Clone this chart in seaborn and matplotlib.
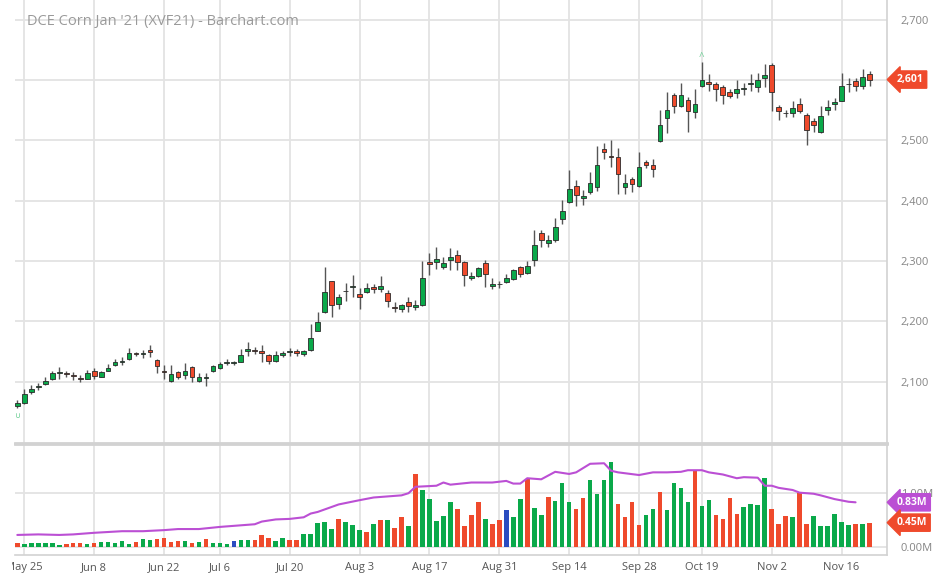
import matplotlib
matplotlib.use("Agg")
import matplotlib.pyplot as plt
import seaborn as sns
import numpy as np
import pandas as pd
from matplotlib.ticker import FuncFormatter
from matplotlib.transforms import Bbox, TransformedBbox

# trading calendar (DCE, holidays removed)
holidays = ["2020-06-25", "2020-06-26", "2020-10-01", "2020-10-02", "2020-10-05",
            "2020-10-06", "2020-10-07", "2020-10-08"]
dates = pd.bdate_range("2020-05-22", "2020-11-20")
dates = dates[~dates.isin(pd.to_datetime(holidays))]

tick_dates = ["2020-05-25", "2020-06-08", "2020-06-22", "2020-07-06", "2020-07-20",
              "2020-08-03", "2020-08-17", "2020-08-31", "2020-09-14", "2020-09-28",
              "2020-10-19", "2020-11-02", "2020-11-16"]

opens = [2060, 2064, 2083, 2091, 2096, 2104, 2114, 2114, 2110, 2106,
         2105, 2117, 2108, 2118, 2127, 2133, 2137, 2148, 2146, 2153,
         2136, 2118, 2101, 2115, 2111, 2124, 2101, 2106, 2118, 2123,
         2131, 2131, 2133, 2151, 2152, 2151, 2144, 2134, 2144, 2149,
         2151, 2146, 2152, 2184, 2216, 2266, 2228, 2250, 2257, 2245,
         2249, 2257, 2253, 2247, 2224, 2220, 2232, 2223, 2227, 2299,
         2299, 2290, 2302, 2310, 2299, 2272, 2275, 2297, 2258, 2261,
         2265, 2270, 2290, 2280, 2302, 2347, 2330, 2335, 2370, 2398,
         2424, 2404, 2414, 2423, 2485, 2474, 2472, 2423, 2436, 2424,
         2465, 2460, 2499, 2537, 2576, 2557, 2567, 2548, 2591, 2597,
         2593, 2588, 2581, 2578, 2586, 2593, 2589, 2604, 2625, 2556,
         2545, 2546, 2561, 2543, 2532, 2514, 2550, 2560, 2566, 2594,
         2598, 2591, 2611]
highs = [2069, 2088, 2094, 2097, 2107, 2118, 2124, 2118, 2115, 2111,
         2119, 2122, 2118, 2129, 2138, 2140, 2155, 2149, 2152, 2161,
         2137, 2128, 2127, 2117, 2131, 2125, 2114, 2114, 2127, 2133,
         2137, 2134, 2154, 2166, 2157, 2161, 2145, 2150, 2150, 2155,
         2154, 2153, 2195, 2216, 2290, 2267, 2246, 2264, 2277, 2255,
         2263, 2262, 2275, 2252, 2232, 2229, 2240, 2235, 2300, 2314,
         2323, 2307, 2321, 2318, 2300, 2282, 2290, 2302, 2271, 2266,
         2278, 2286, 2291, 2300, 2351, 2351, 2343, 2372, 2401, 2451,
         2434, 2418, 2447, 2491, 2496, 2500, 2487, 2444, 2440, 2480,
         2468, 2470, 2550, 2581, 2579, 2596, 2572, 2586, 2630, 2611,
         2597, 2592, 2585, 2601, 2595, 2610, 2612, 2626, 2629, 2559,
         2550, 2566, 2570, 2545, 2537, 2557, 2567, 2570, 2612, 2603,
         2603, 2619, 2615]
lows = [2056, 2063, 2080, 2086, 2094, 2103, 2105, 2108, 2103, 2099,
        2104, 2104, 2107, 2117, 2125, 2127, 2135, 2143, 2139, 2141,
        2114, 2105, 2100, 2105, 2105, 2100, 2100, 2093, 2116, 2121,
        2127, 2127, 2132, 2142, 2146, 2133, 2129, 2133, 2140, 2142,
        2143, 2143, 2151, 2183, 2214, 2207, 2221, 2233, 2241, 2221,
        2247, 2247, 2249, 2224, 2215, 2216, 2216, 2219, 2226, 2276,
        2286, 2286, 2285, 2285, 2259, 2268, 2273, 2257, 2253, 2255,
        2263, 2268, 2273, 2279, 2292, 2324, 2323, 2332, 2361, 2397,
        2392, 2393, 2411, 2416, 2470, 2456, 2411, 2411, 2415, 2422,
        2455, 2440, 2498, 2512, 2545, 2556, 2514, 2537, 2589, 2582,
        2566, 2560, 2571, 2571, 2575, 2582, 2581, 2588, 2549, 2534,
        2539, 2539, 2545, 2492, 2514, 2513, 2542, 2550, 2565, 2581,
        2582, 2586, 2591]
closes = [2065, 2079, 2088, 2092, 2101, 2114, 2115, 2113, 2109, 2105,
          2114, 2109, 2116, 2122, 2133, 2134, 2147, 2145, 2147, 2149,
          2125, 2116, 2112, 2108, 2118, 2107, 2108, 2107, 2125, 2129,
          2132, 2132, 2144, 2154, 2151, 2147, 2134, 2144, 2147, 2150,
          2148, 2151, 2173, 2199, 2249, 2227, 2240, 2251, 2258, 2241,
          2255, 2253, 2259, 2233, 2222, 2227, 2226, 2227, 2272, 2295,
          2303, 2296, 2306, 2298, 2276, 2275, 2288, 2278, 2262, 2262,
          2271, 2285, 2278, 2292, 2326, 2335, 2334, 2357, 2383, 2420,
          2409, 2407, 2430, 2459, 2480, 2473, 2444, 2430, 2427, 2456,
          2460, 2452, 2525, 2550, 2557, 2576, 2549, 2560, 2600, 2593,
          2586, 2576, 2574, 2585, 2587, 2596, 2600, 2609, 2581, 2549,
          2546, 2554, 2549, 2518, 2525, 2541, 2556, 2563, 2590, 2593,
          2591, 2605, 2601]

# volume in millions, colour code: g up, r down, b unchanged
volumes = [0.075, 0.044, 0.062, 0.069, 0.069, 0.075, 0.037, 0.056, 0.062, 0.062,
           0.056, 0.062, 0.081, 0.081, 0.069, 0.112, 0.050, 0.081, 0.150, 0.125,
           0.150, 0.156, 0.081, 0.106, 0.106, 0.062, 0.094, 0.137, 0.075, 0.069,
           0.050, 0.106, 0.125, 0.119, 0.125, 0.225, 0.169, 0.106, 0.169, 0.125,
           0.119, 0.243, 0.243, 0.437, 0.456, 0.331, 0.512, 0.456, 0.400, 0.306,
           0.275, 0.424, 0.493, 0.493, 0.350, 0.549, 0.387, 1.367, 1.061, 0.893,
           0.481, 0.581, 0.843, 0.712, 0.387, 0.593, 0.843, 0.512, 0.431, 0.500,
           0.687, 0.556, 0.899, 1.261, 0.724, 0.587, 0.930, 0.861, 1.186, 0.836,
           0.712, 0.918, 1.242, 0.980, 1.248, 1.586, 0.793, 0.549, 0.843, 0.412,
           0.593, 0.699, 1.024, 0.693, 1.186, 1.105, 0.843, 1.423, 0.768, 0.874,
           0.587, 0.524, 0.911, 0.605, 0.749, 0.805, 0.787, 1.280, 0.699, 0.418,
           0.580, 0.549, 1.011, 0.424, 0.580, 0.393, 0.393, 0.612, 0.468, 0.406,
           0.424, 0.424, 0.450]
vol_dirs = list("rgggggg" "rrrgrgggggrgg" "rrrrgrgrgggb" "ggrrrggrrgg" "gggrgggrgrg"
                "rrgrgggggrrrr" "grrbggrggrggg" "rrggggrrrrggr" "ggggrggrrrrgg"
                "ggrrrgrrggggggrgr")

# volume moving average (day index, millions)
ma_days = [0, 3, 6, 8, 11, 15, 18, 21, 23, 26, 29, 31, 34, 35, 37, 39, 41, 42, 43,
           46, 49, 51, 53, 55, 56, 57, 60, 61, 62, 65, 68, 70, 71, 72, 73, 75, 77,
           79, 80, 82, 84, 85, 86, 89, 91, 93, 95, 96, 98, 99, 101, 103, 104, 106,
           107, 108, 109, 111, 112, 114, 115, 117, 119, 120]
ma_vals = [0.22, 0.23, 0.22, 0.23, 0.26, 0.29, 0.29, 0.31, 0.33, 0.33, 0.37, 0.39,
           0.42, 0.47, 0.51, 0.52, 0.55, 0.62, 0.65, 0.79, 0.87, 0.92, 0.94, 0.96,
           1.00, 1.12, 1.14, 1.20, 1.16, 1.20, 1.20, 1.23, 1.18, 1.18, 1.28, 1.26,
           1.40, 1.36, 1.39, 1.55, 1.56, 1.42, 1.39, 1.34, 1.39, 1.39, 1.40, 1.43,
           1.43, 1.39, 1.35, 1.28, 1.30, 1.29, 1.14, 1.14, 1.10, 1.06, 1.01, 0.99,
           0.96, 0.89, 0.84, 0.83]

GREEN = "#0aa94a"
RED = "#ef4a2c"
BLUE = "#2a4cc0"
PURPLE = "#bb4fd4"
GRID = "#e3e3e3"
EDGE = "#d2d2d2"

sns.set_theme(style="white")
plt.rcParams["font.family"] = ["Open Sans", "DejaVu Sans"]

W, H = 940, 574
fig = plt.figure(figsize=(W / 100, H / 100), dpi=100)
axp = fig.add_axes([15 / W, 1 - 443 / H, (887 - 15) / W, 443 / H])
axv = fig.add_axes([15 / W, 1 - 555 / H, (887 - 15) / W, (555 - 444) / H])

n = len(closes)
x = np.arange(n)
o = np.array(opens, float)
c = np.array(closes, float)
up = c >= o
body_col = np.where(up, GREEN, RED)

# candles
axp.vlines(x, lows, highs, color="#555555", lw=1, zorder=2)
axp.bar(x, np.maximum(np.abs(c - o), 0.9), bottom=np.minimum(o, c), width=0.68,
        color=body_col, edgecolor="#2a2a2a", linewidth=0.6, zorder=3)

# high / low markers
hi = int(np.argmax(highs))
lo = int(np.argmin(lows))
axp.annotate("^", (hi, highs[hi]), xytext=(0, -1), textcoords="offset points",
             ha="center", va="bottom", fontsize=7, color="#6fcf97")
axp.annotate("$\\cup$", (lo, lows[lo]), xytext=(0, -2), textcoords="offset points",
             ha="center", va="top", fontsize=6, color="#6fcf97")

# volume
vol_df = pd.DataFrame({"day": x, "vol": volumes, "dir": vol_dirs})
sns.barplot(data=vol_df, x="day", y="vol", hue="dir",
            palette={"g": GREEN, "r": RED, "b": BLUE}, dodge=False, width=0.66,
            errorbar=None, legend=False, saturation=1, linewidth=0,
            ax=axv, zorder=3)
sns.lineplot(x=ma_days, y=ma_vals, color=PURPLE, lw=1.5, ax=axv, zorder=4)

# axes
tick_idx = [dates.get_loc(pd.Timestamp(d)) for d in tick_dates]
tick_lab = [pd.Timestamp(d).strftime("%b %-d") for d in tick_dates]
for ax in (axp, axv):
    ax.set_xlim(-0.33, 124.5)
    ax.set_xticks(tick_idx)
    ax.grid(True, color=GRID, lw=1.3)
    ax.set_axisbelow(True)
    ax.yaxis.tick_right()
    ax.tick_params(axis="both", length=0)
    ax.tick_params(axis="y", pad=10, labelsize=8, labelcolor="#858585")
    ax.spines["left"].set_visible(False)
    ax.spines["right"].set_color(EDGE)
    ax.spines["right"].set_linewidth(1.2)
    ax.set_xlabel("")
    ax.set_ylabel("")

# the 2,600 label sits under the last-price tag in the reference
axp.set_ylim(1998, 2733)
axp.set_yticks(range(2100, 2800, 100))
axp.yaxis.set_major_formatter(
    FuncFormatter(lambda v, p: "" if round(v) == 2600 else f"{v:,.0f}"))
axp.set_xticklabels([])
axp.spines["top"].set_visible(False)
axp.spines["bottom"].set_color(EDGE)
axp.spines["bottom"].set_linewidth(2)

axv.set_ylim(-0.155, 1.92)
axv.set_yticks([0, 1])
axv.set_yticklabels(["0.00M", "1.00M"])
axv.set_xticklabels(tick_lab)
axv.tick_params(axis="x", pad=5, labelsize=8, labelcolor="#555555")
axv.spines["top"].set_color(EDGE)
axv.spines["top"].set_linewidth(2)
axv.spines["bottom"].set_color(EDGE)
axv.spines["bottom"].set_linewidth(1.2)

clip = TransformedBbox(Bbox([[12 / W, 0], [1, 1]]), fig.transFigure)
for lbl in axv.get_xticklabels():
    lbl.set_clip_box(clip)
    lbl.set_clip_on(True)


def tag(ax, y, text, color):
    ax.annotate(text, xy=(1.0, y), xycoords=("axes fraction", "data"),
                xytext=(7, 0), textcoords="offset points", ha="left", va="center",
                fontsize=7.5, fontweight="bold", color="white", zorder=10,
                annotation_clip=False,
                bbox=dict(boxstyle="larrow,pad=0.3", fc=color, ec=color))


tag(axp, closes[-1], f"{closes[-1]:,}", RED)
tag(axv, ma_vals[-1], f"{ma_vals[-1]:.2f}M", PURPLE)
tag(axv, volumes[-1], f"{volumes[-1]:.2f}M", RED)

fig.text(27 / W, 1 - 22 / H, "DCE Corn Jan '21 (XVF21) - Barchart.com",
         fontsize=10.5, color="#9a9a9a", ha="left", va="center")

fig.savefig("out.png", dpi=100, facecolor="white")
